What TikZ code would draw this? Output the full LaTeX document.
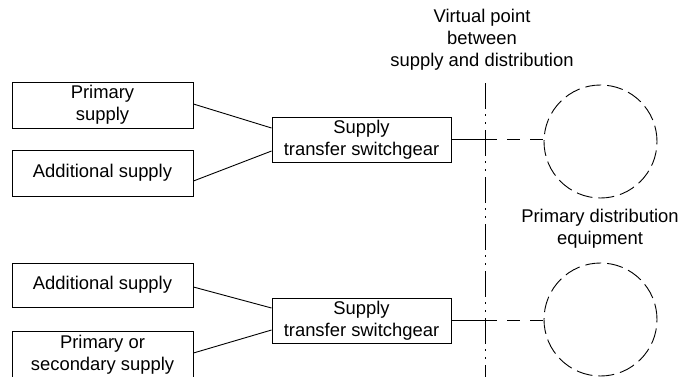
\documentclass[tikz,border=0pt]{standalone}
\usepackage{fontspec}
\setmainfont{Liberation Sans}
\begin{document}
\begin{tikzpicture}[x=1pt,y=-1pt,
  every node/.style={font=\fontsize{18.4}{22}\selectfont, align=center, inner sep=0pt},
  box/.style={draw, line width=0.9pt, minimum width=181pt, minimum height=#1},
  sgbox/.style={draw, line width=0.9pt, minimum width=179pt, minimum height=45pt},
  conn/.style={line width=0.9pt},
  dashconn/.style={line width=0.9pt, dash pattern=on 13pt off 10pt, dash phase=13pt},
  vline/.style={line width=0.9pt, dash pattern=on 26pt off 5pt on 2pt off 6pt on 2pt off 6pt},
  equip/.style={draw, circle, line width=0.9pt, minimum size=113pt, dash pattern=on 16pt off 6pt}]
\useasboundingbox (0,0) rectangle (678,376);
% upper group
\node[box=46pt] (ps1) at (102.5,105) {Primary\\supply};
\node[box=46pt] (as1) at (102.5,173) {Additional supply};
\node[sgbox] (sg1) at (361.5,139.5) {Supply\\transfer switchgear};
% lower group
\node[box=44pt] (as2) at (102.5,285) {Additional supply};
\node[box=47pt] (ps2) at (102.5,354.5) {Primary or\\secondary supply};
\node[sgbox] (sg2) at (361.5,320.5) {Supply\\transfer switchgear};
% equipment
\node[equip] (eq1) at (600.5,141.5) {};
\node[equip] (eq2) at (600.5,319.5) {};
% labels
\node (vp) at (482,40) {Virtual point\\between\\supply and distribution};
\node (pd) at (600,229) {Primary distribution\\equipment};
% virtual boundary line
\coordinate (vtop) at (485,83);
\coordinate (vbot) at (485,380);
\draw[vline] (vtop) -- (vbot);
% connectors
\draw[conn] ([yshift=1pt]ps1.east) -- ([yshift=11.5pt]sg1.west);
\draw[conn] ([yshift=-8pt]as1.east) -- ([yshift=-11.5pt]sg1.west);
\draw[conn] ([yshift=-2pt]as2.east) -- ([yshift=12.5pt]sg2.west);
\draw[conn] ([yshift=1.5pt]ps2.east) -- ([yshift=-9.5pt]sg2.west);
\coordinate (j1) at (497,139.5);
\coordinate (j2) at (497,320.5);
\draw[conn] (sg1.east) -- (j1);
\draw[dashconn] (j1) -- (eq1.west |- j1);
\draw[conn] (sg2.east) -- (j2);
\draw[dashconn] (j2) -- (eq2.west |- j2);
\end{tikzpicture}
\end{document}
